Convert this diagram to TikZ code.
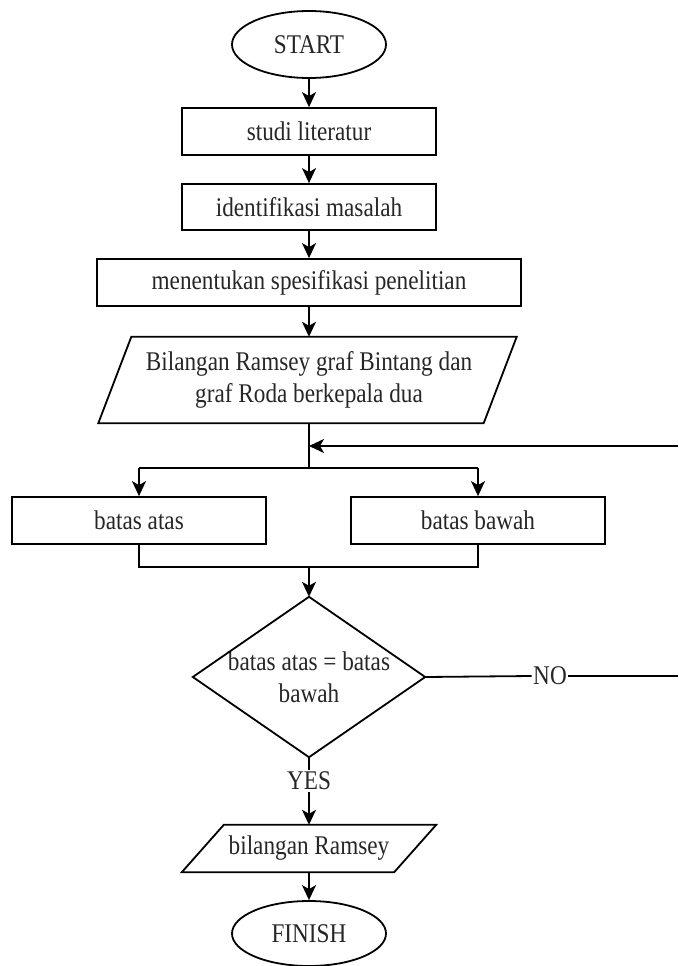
\documentclass[tikz,border=0pt]{standalone}
\usepackage{fontspec}
\setmainfont{Liberation Serif}[FakeStretch=0.86]
\usetikzlibrary{shapes.geometric,arrows.meta}
\begin{document}
\begin{tikzpicture}[x=1pt,y=-1pt,
  every node/.style={font=\fontsize{27}{32}\selectfont, text=black!85},
  flow/.style={line width=1.8pt, draw=black},
  arr/.style={flow, -{Stealth[length=15pt,width=14pt,inset=4pt]}},
  term/.style={ellipse, draw, line width=1.8pt, minimum width=154pt, minimum height=67pt, inner sep=0pt},
  procbox/.style={rectangle, draw, line width=1.8pt, minimum height=47pt, inner sep=0pt},
  iobox/.style={rectangle, minimum height=47pt, inner sep=0pt, align=center},
  label/.style={inner sep=1.5pt, fill=white}
]
\useasboundingbox (0,0) rectangle (678,966);

\node[term] (start) at (309,44.5) {START};
\node[procbox, minimum width=254pt] (studi) at (309,131.5) {studi literatur};
\node[procbox, minimum width=254pt, minimum height=46pt] (ident) at (309,207) {identifikasi masalah};
\node[procbox, minimum width=424pt] (spes) at (309,282.5) {menentukan spesifikasi penelitian};

\node[iobox, minimum width=385pt, minimum height=86pt] (input) at (309,380) {Bilangan Ramsey graf Bintang dan\\graf Roda berkepala dua};
\draw[flow] ([xshift=15pt]input.north west) -- ([xshift=15pt]input.north east)
  -- ([xshift=-18pt]input.south east) -- ([xshift=-18pt]input.south west) -- cycle;

\coordinate (join) at (309,446);
\coordinate (split) at (309,468);
\coordinate (splitL) at (139,468);
\coordinate (splitR) at (478,468);

\node[procbox, minimum width=254pt] (atas) at (139,520.5) {batas atas};
\node[procbox, minimum width=254pt] (bawah) at (478,520.5) {batas bawah};

\coordinate (merge) at (309,567);
\coordinate (mergeL) at (139,567);
\coordinate (mergeR) at (478,567);

\node[iobox, minimum width=232pt, minimum height=160pt] (dec) at (309,677) {batas atas = batas\\bawah};
\draw[flow] (dec.north) -- (dec.east) -- (dec.south) -- (dec.west) -- cycle;

\node[label] (no) at (550,676) {NO};
\coordinate (r1) at (678,676);
\coordinate (r2) at (678,446);

\node[label, inner sep=2pt] (yes) at (309,781) {YES};

\node[iobox, minimum width=212pt] (out) at (309,848.5) {bilangan Ramsey};
\draw[flow] ([xshift=21pt]out.north west) -- ([xshift=21pt]out.north east)
  -- ([xshift=-21pt]out.south east) -- ([xshift=-21pt]out.south west) -- cycle;

\node[term, minimum height=65pt] (finish) at (309,933.5) {FINISH};

% connectors
\draw[arr] (start) -- (studi);
\draw[arr] (studi) -- (ident);
\draw[arr] (ident) -- (spes);
\draw[arr] (spes) -- (input);
\draw[flow] (input.south) -- (split);
\draw[flow] (splitL) -- (splitR);
\draw[arr] (splitL) -- (atas.north);
\draw[arr] (splitR) -- (bawah.north);
\draw[flow] (atas.south) -- (mergeL) -- (mergeR) -- (bawah.south);
\draw[arr] (merge) -- (dec.north);
\draw[flow] (dec.east) -- (no.west);
\draw[flow] (no.east) -- (r1);
\draw[arr] (r2) -- (join);
\draw[flow] (dec.south) -- (yes.north);
\draw[arr] (yes.south) -- (out.north);
\draw[arr] (out.south) -- (finish.north);
\end{tikzpicture}
\end{document}
